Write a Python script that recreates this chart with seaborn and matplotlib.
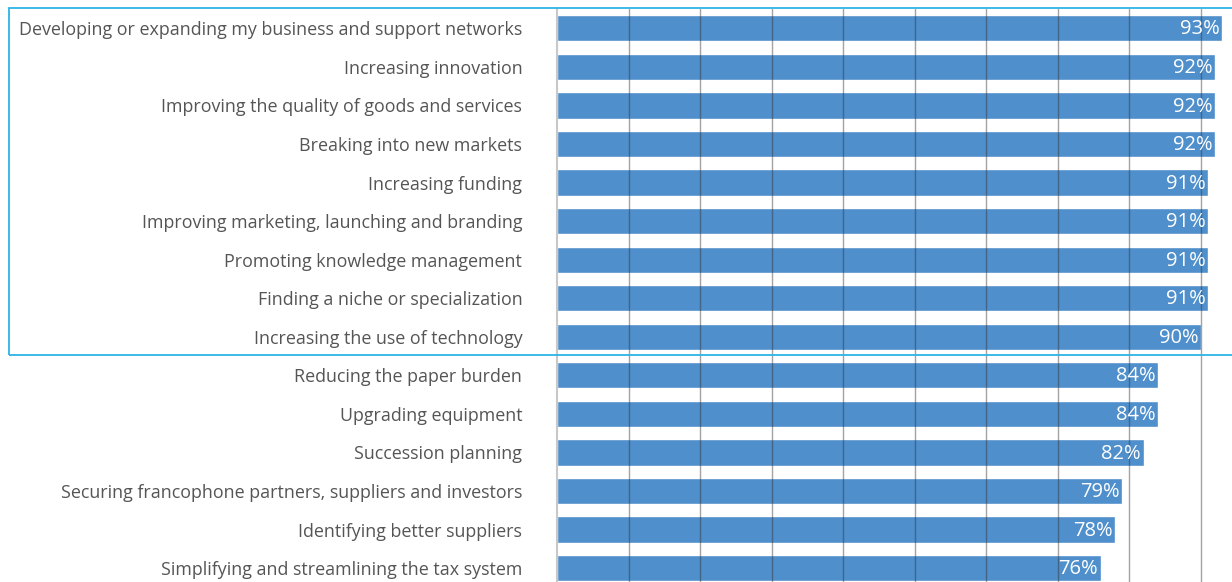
import matplotlib
matplotlib.use("Agg")
import matplotlib.pyplot as plt
import seaborn as sns
import pandas as pd
from matplotlib.patches import Rectangle

categories = [
    "Developing or expanding my business and support networks",
    "Increasing innovation",
    "Improving the quality of goods and services",
    "Breaking into new markets",
    "Increasing funding",
    "Improving marketing, launching and branding",
    "Promoting knowledge management",
    "Finding a niche or specialization",
    "Increasing the use of technology",
    "Reducing the paper burden",
    "Upgrading equipment",
    "Succession planning",
    "Securing francophone partners, suppliers and investors",
    "Identifying better suppliers",
    "Simplifying and streamlining the tax system",
]
values = [93, 92, 92, 92, 91, 91, 91, 91, 90, 84, 84, 82, 79, 78, 76]
value_labels = [f"{v}%" for v in values]

df = pd.DataFrame({"category": categories, "value": values})

sns.set_theme(style="white")
plt.rcParams["font.family"] = ["Open Sans", "DejaVu Sans"]

fig = plt.figure(figsize=(12.32, 5.82), dpi=100)
ax = fig.add_axes([557 / 1232, 0.0, 1 - 557 / 1232, 1 - 9 / 582])

sns.barplot(data=df, x="value", y="category", color="#4f8fcc", saturation=1,
            width=0.68, ax=ax, orient="h")

ax.set_xlim(0, 94.33)
ax.set_ylim(14.36, -0.5)
ax.set_xticks(range(10, 100, 10))
ax.set_xticklabels([])
ax.tick_params(axis="x", length=0)
ax.grid(axis="x", color="#333333", alpha=0.45, linewidth=1.0)
ax.set_axisbelow(False)
ax.set_xlabel("")
ax.set_ylabel("")
for s in ["top", "right", "bottom"]:
    ax.spines[s].set_visible(False)
ax.spines["left"].set_color("#c8c8c8")
ax.spines["left"].set_linewidth(1.5)

ax.tick_params(axis="y", length=0, pad=25, labelsize=12.9, labelcolor="#555555")

for i, (v, lab) in enumerate(zip(values, value_labels)):
    ax.text(v - 0.4, i + 0.03, lab, ha="right", va="center", color="white", fontsize=14.5)

# highlight frame around top nine items
fig.patches.append(Rectangle((9 / 1232, 1 - 355 / 582), 1.0, (355 - 8) / 582,
                             transform=fig.transFigure, fill=False,
                             edgecolor="#2ab4e6", linewidth=1.3, zorder=10))

fig.savefig("out.png", dpi=100)
